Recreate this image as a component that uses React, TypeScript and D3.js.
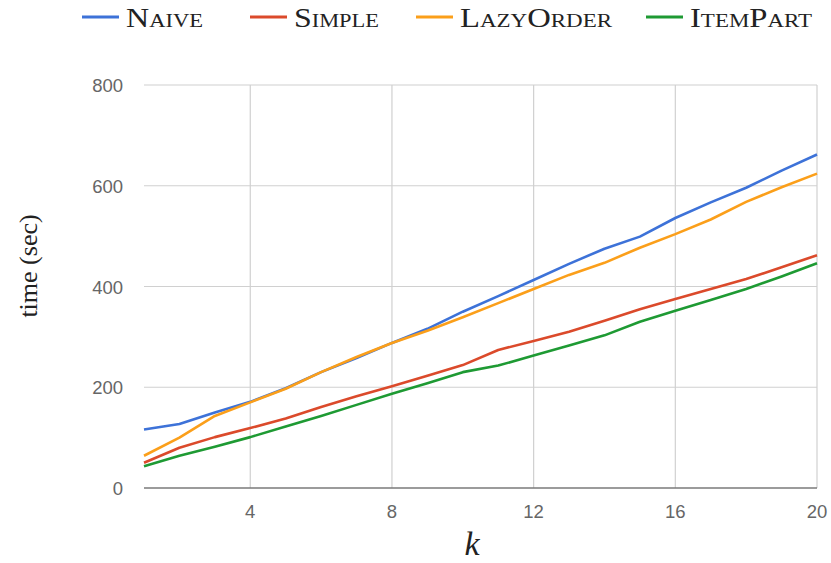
import React from "react";
import * as d3 from "d3";

const ks = d3.range(1, 21);
const naive = [116, 127, 150, 171, 198, 230, 258, 288, 316, 350, 381, 413, 445, 475, 499, 536, 567, 596, 630, 662];
const simple = [50, 80, 101, 119, 138, 161, 182, 202, 223, 244, 274, 292, 310, 332, 355, 375, 395, 415, 438, 462];
const lazyOrder = [64, 100, 143, 170, 197, 230, 260, 288, 312, 339, 367, 395, 423, 447, 477, 504, 533, 568, 597, 624];
const itemPart = [43, 64, 82, 101, 122, 143, 165, 187, 208, 230, 243, 263, 283, 303, 330, 352, 373, 395, 420, 446];

const seriesNames = ["Naive", "Simple", "LazyOrder", "ItemPart"];
const seriesData = [naive, simple, lazyOrder, itemPart];
const colors = ["#3d72d8", "#db4a2b", "#fb9f1a", "#1e9a33"];
const yTicks = [0, 200, 400, 600, 800];
const xTicks = [4, 8, 12, 16, 20];

const W = 831, H = 563;
const left = 144, right = 817, top = 85, bottom = 488;

export default function App() {
  const x = d3.scaleLinear().domain([1, 20]).range([left, right]);
  const y = d3.scaleLinear().domain([0, 800]).range([bottom, top]);
  const line = d3.line<number>().x((_, i) => x(ks[i])).y((d) => y(d));
  const legendX = [82, 250, 416, 646];
  const legendW = [77, 85, 152, 122];
  return (
    <svg width={W} height={H} style={{ position: "absolute", left: 0, top: 0, background: "#fff" }}>
      <rect x={0} y={0} width={W} height={H} fill="#fff" />
      {yTicks.filter((t) => t !== 0).map((t) => (
        <line key={"gy" + t} x1={left} x2={right} y1={y(t)} y2={y(t)} stroke="#d0d0d0" strokeWidth={1.2} />
      ))}
      {xTicks.map((t) => (
        <line key={"gx" + t} x1={x(t)} x2={x(t)} y1={top} y2={bottom} stroke="#d0d0d0" strokeWidth={1.2} />
      ))}
      <line x1={left} x2={right} y1={y(0)} y2={y(0)} stroke="#7a7a7a" strokeWidth={1.6} />
      {yTicks.map((t) => (
        <text key={"ty" + t} x={123} y={y(t) + 7} textAnchor="end" fontFamily="Liberation Sans, Arial, sans-serif" fontSize={18.5} fill="#666">
          {t}
        </text>
      ))}
      {xTicks.map((t) => (
        <text key={"tx" + t} x={x(t)} y={518} textAnchor="middle" fontFamily="Liberation Sans, Arial, sans-serif" fontSize={18.5} fill="#666">
          {t}
        </text>
      ))}
      {seriesData.map((d, i) => (
        <path key={seriesNames[i]} d={line(d) || ""} fill="none" stroke={colors[i]} strokeWidth={2.6} strokeLinejoin="round" />
      ))}
      <text x={472} y={555} textAnchor="middle" fontFamily="Liberation Serif, serif" fontStyle="italic" fontSize={34} fill="#222">
        k
      </text>
      <text transform={`translate(37,266) rotate(-90)`} textAnchor="middle" fontFamily="Liberation Serif, serif" fontSize={26} fill="#222">
        time (sec)
      </text>
      {seriesNames.map((n, i) => (
        <g key={"lg" + n}>
          <line x1={legendX[i]} x2={legendX[i] + 37} y1={17} y2={17} stroke={colors[i]} strokeWidth={3} />
          <text x={legendX[i] + 44} y={27} fontFamily="Liberation Serif, serif" fontSize={27} textLength={legendW[i]} lengthAdjust="spacingAndGlyphs" style={{ fontVariant: "small-caps" }} fill="#222">
            {n}
          </text>
        </g>
      ))}
    </svg>
  );
}
